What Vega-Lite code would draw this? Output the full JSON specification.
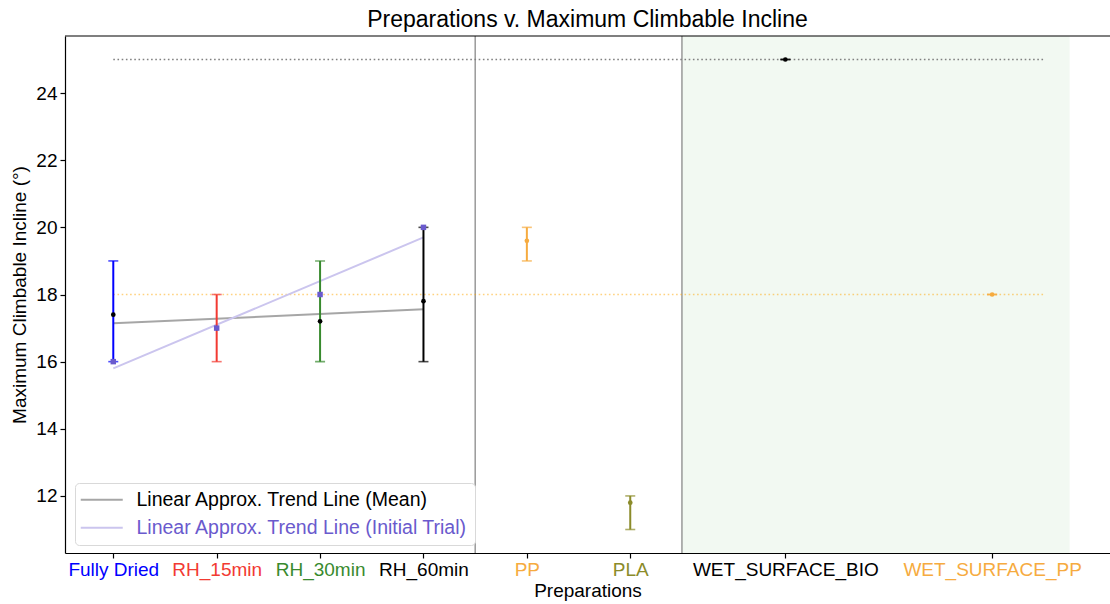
{
  "$schema": "https://vega.github.io/schema/vega-lite/v6.json",
  "width": 1045,
  "height": 517,
  "autosize": {"type": "none"},
  "padding": {"left": 65, "top": 36, "right": 0, "bottom": 51},
  "background": "white",
  "title": {"text": "Preparations v. Maximum Climbable Incline", "fontSize": 23, "fontWeight": "normal", "color": "black", "font": "Liberation Sans", "offset": 3, "anchor": "middle"},
  "config": {
    "view": {"stroke": null},
    "font": "Liberation Sans",
    "axis": {"grid": false, "domainColor": "black", "tickColor": "black", "labelColor": "black", "labelFontSize": 19, "titleFontSize": 19, "titleFontWeight": "normal", "titleColor": "black", "labelFont": "Liberation Sans", "titleFont": "Liberation Sans", "tickSize": 5, "domainWidth": 1.2, "tickWidth": 1.2, "labelLimit": 0}
  },
  "datasets": {
    "preps": [
      {"prep": "Fully Dried", "x": 0, "low": 16, "high": 19, "mean": 17.4, "initial": 16},
      {"prep": "RH_15min", "x": 1, "low": 16, "high": 18, "mean": 17, "initial": 17},
      {"prep": "RH_30min", "x": 2, "low": 16, "high": 19, "mean": 17.2, "initial": 18},
      {"prep": "RH_60min", "x": 3, "low": 16, "high": 20, "mean": 17.8, "initial": 20},
      {"prep": "PP", "x": 4, "low": 19, "high": 20, "mean": 19.6, "initial": null},
      {"prep": "PLA", "x": 5, "low": 11, "high": 12, "mean": 11.8, "initial": null},
      {"prep": "WET_SURFACE_BIO", "x": 6.5, "low": 25, "high": 25, "mean": 25, "initial": null},
      {"prep": "WET_SURFACE_PP", "x": 8.5, "low": 18, "high": 18, "mean": 18, "initial": null}
    ],
    "trends": [
      {"series": "Linear Approx. Trend Line (Mean)", "x": 0, "y": 17.14},
      {"series": "Linear Approx. Trend Line (Mean)", "x": 3, "y": 17.56},
      {"series": "Linear Approx. Trend Line (Initial Trial)", "x": 0, "y": 15.8},
      {"series": "Linear Approx. Trend Line (Initial Trial)", "x": 3, "y": 19.7}
    ],
    "dividers": [{"x": 3.5}, {"x": 5.5}],
    "shade": [{"x": 5.5, "x2": 9.25}],
    "refs": [
      {"ref": "bio", "y": 25, "x": 0, "x2": 9},
      {"ref": "pp", "y": 18, "x": 0, "x2": 9}
    ]
  },
  "layer": [
    {
      "data": {"name": "shade"},
      "mark": {"type": "rect", "fill": "#008000", "opacity": 0.05},
      "encoding": {
        "x": {"field": "x", "type": "quantitative", "scale": {"domain": [-0.467, 9.64], "nice": false, "zero": false}},
        "x2": {"field": "x2"}
      }
    },
    {
      "data": {"name": "dividers"},
      "mark": {"type": "rule", "color": "#808080", "strokeWidth": 1.2},
      "encoding": {
        "x": {"field": "x", "type": "quantitative", "scale": {"domain": [-0.467, 9.64], "nice": false, "zero": false}}
      }
    },
    {
      "data": {"name": "refs"},
      "transform": [{"filter": "datum.ref == 'bio'"}],
      "mark": {"type": "rule", "color": "#808080", "strokeWidth": 1.6, "strokeDash": [1.6, 2.6]},
      "encoding": {
        "x": {"field": "x", "type": "quantitative", "scale": {"domain": [-0.467, 9.64], "nice": false, "zero": false}},
        "x2": {"field": "x2"},
        "y": {"field": "y", "type": "quantitative", "scale": {"domain": [10.3, 25.7], "nice": false, "zero": false}}
      }
    },
    {
      "data": {"name": "refs"},
      "transform": [{"filter": "datum.ref == 'pp'"}],
      "mark": {"type": "rule", "color": "#ffa500", "opacity": 0.5, "strokeWidth": 1.6, "strokeDash": [1.6, 2.6]},
      "encoding": {
        "x": {"field": "x", "type": "quantitative", "scale": {"domain": [-0.467, 9.64], "nice": false, "zero": false}},
        "x2": {"field": "x2"},
        "y": {"field": "y", "type": "quantitative", "scale": {"domain": [10.3, 25.7], "nice": false, "zero": false}}
      }
    },
    {
      "data": {"values": [{}]},
      "mark": {"type": "rule", "color": "black", "strokeWidth": 1.2},
      "encoding": {
        "y": {"datum": 25.7, "type": "quantitative", "scale": {"domain": [10.3, 25.7], "nice": false, "zero": false}}
      }
    },
    {
      "data": {"name": "trends"},
      "mark": {"type": "line", "strokeWidth": 2},
      "encoding": {
        "x": {"field": "x", "type": "quantitative", "scale": {"domain": [-0.467, 9.64], "nice": false, "zero": false}},
        "y": {"field": "y", "type": "quantitative", "scale": {"domain": [10.3, 25.7], "nice": false, "zero": false}},
        "stroke": {
          "field": "series", "type": "nominal",
          "scale": {"domain": ["Linear Approx. Trend Line (Mean)", "Linear Approx. Trend Line (Initial Trial)"], "range": ["#a6a6a6", "#cbc5ee"]},
          "legend": {
            "title": null, "orient": "none", "legendX": 10, "legendY": 447,
            "fillColor": "white", "strokeColor": "#d9d9d9", "cornerRadius": 4, "padding": 7,
            "symbolType": "M-3,0H3", "symbolSize": 196, "symbolStrokeWidth": 2, "symbolOffset": 10,
            "labelFontSize": 19.5, "labelFont": "Liberation Sans", "labelOffset": 25, "labelLimit": 0, "rowPadding": 7,
            "encode": {"labels": {"update": {"fill": {"signal": "datum.label === 'Linear Approx. Trend Line (Initial Trial)' ? '#6a5acd' : 'black'"}}}}
          }
        }
      }
    },
    {
      "data": {"name": "preps"},
      "mark": {"type": "rule", "strokeWidth": 2},
      "encoding": {
        "x": {
          "field": "x", "type": "quantitative",
          "scale": {"domain": [-0.467, 9.64], "nice": false, "zero": false},
          "axis": {
            "title": "Preparations", "titlePadding": 2,
            "values": [0, 1, 2, 3, 4, 5, 6.5, 8.5],
            "labelExpr": "datum.value == 0 ? 'Fully Dried' : datum.value == 1 ? 'RH_15min' : datum.value == 2 ? 'RH_30min' : datum.value == 3 ? 'RH_60min' : datum.value == 4 ? 'PP' : datum.value == 5 ? 'PLA' : datum.value == 6.5 ? 'WET_SURFACE_BIO' : 'WET_SURFACE_PP'",
            "labelOverlap": false, "labelFlush": false, "labelBound": false, "labelPadding": 2, "labelLimit": 0,
            "labelColor": {
              "condition": [
                {"test": "datum.value == 0", "value": "#0000ff"},
                {"test": "datum.value == 1", "value": "#f23a32"},
                {"test": "datum.value == 2", "value": "#388a2e"},
                {"test": "datum.value == 4", "value": "#f6ab3f"},
                {"test": "datum.value == 5", "value": "#8b8b2a"},
                {"test": "datum.value == 8.5", "value": "#f6ab3f"}
              ],
              "value": "black"
            }
          }
        },
        "y": {
          "field": "low", "type": "quantitative",
          "scale": {"domain": [10.3, 25.7], "nice": false, "zero": false},
          "axis": {"title": "Maximum Climbable Incline (°)", "values": [12, 14, 16, 18, 20, 22, 24], "titlePadding": 6, "labelPadding": 3}
        },
        "y2": {"field": "high"},
        "color": {
          "field": "prep", "type": "nominal", "legend": null,
          "scale": {
            "domain": ["Fully Dried", "RH_15min", "RH_30min", "RH_60min", "PP", "PLA", "WET_SURFACE_BIO", "WET_SURFACE_PP"],
            "range": ["#0000ff", "#f23a32", "#388a2e", "#000000", "#f6ab3f", "#8b8b2a", "#000000", "#f6ab3f"]
          }
        }
      }
    },
    {
      "data": {"name": "preps"},
      "transform": [{"fold": ["low", "high"], "as": ["end", "val"]}],
      "mark": {"type": "tick", "orient": "horizontal", "size": 10, "thickness": 1.6},
      "encoding": {
        "x": {"field": "x", "type": "quantitative", "scale": {"domain": [-0.467, 9.64], "nice": false, "zero": false}},
        "y": {"field": "val", "type": "quantitative", "scale": {"domain": [10.3, 25.7], "nice": false, "zero": false}},
        "color": {"field": "prep", "type": "nominal", "legend": null}
      }
    },
    {
      "data": {"name": "preps"},
      "mark": {"type": "point", "filled": true, "size": 22, "opacity": 1},
      "encoding": {
        "x": {"field": "x", "type": "quantitative", "scale": {"domain": [-0.467, 9.64], "nice": false, "zero": false}},
        "y": {"field": "mean", "type": "quantitative", "scale": {"domain": [10.3, 25.7], "nice": false, "zero": false}},
        "color": {"condition": {"test": "isValid(datum.initial)", "value": "black"}, "field": "prep", "type": "nominal", "legend": null}
      }
    },
    {
      "data": {"name": "preps"},
      "transform": [{"filter": "isValid(datum.initial)"}],
      "mark": {"type": "point", "shape": "square", "filled": true, "size": 30, "color": "#6a5acd", "opacity": 1},
      "encoding": {
        "x": {"field": "x", "type": "quantitative", "scale": {"domain": [-0.467, 9.64], "nice": false, "zero": false}},
        "y": {"field": "initial", "type": "quantitative", "scale": {"domain": [10.3, 25.7], "nice": false, "zero": false}}
      }
    }
  ]
}
